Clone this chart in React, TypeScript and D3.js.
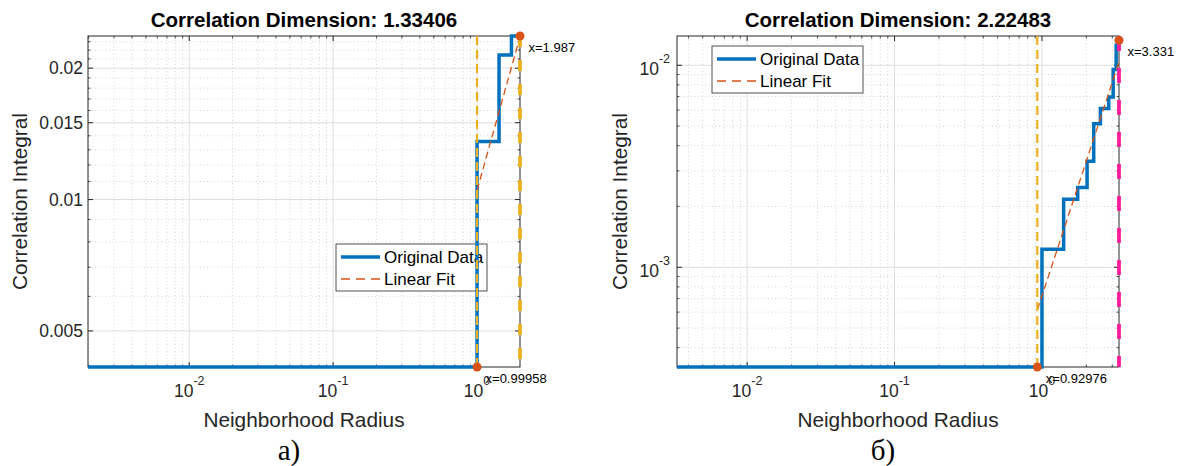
import * as d3 from "d3";
import React from "react";

// shared x ticks (neighborhood radius, log)
const xTickValues = [0.01, 0.1, 1];
const xTickExponents = ["-2", "-1", "0"];

// panel а) — correlation dimension 1.33406
const dimA = "1.33406";
const radiusA = [0.00198, 0.99958, 1.421, 1.733, 1.987];
const integralA = [0.004134, 0.01358, 0.02145, 0.0237, 0.0237];
const fitRadiusA = [0.99958, 1.987];
const fitIntegralA = [0.0105, 0.0236];
const markRadiusA = [0.99958, 1.987];
const markIntegralA = [0.004134, 0.0237];
const markTextA = ["x=0.99958", "x=1.987"];
const yTicksA = [0.005, 0.01, 0.015, 0.02];
const yTickLabelsA = ["0.005", "0.01", "0.015", "0.02"];
const yMinorA = [0.006, 0.007, 0.008, 0.009, 0.011, 0.012, 0.013, 0.014, 0.016, 0.017, 0.018, 0.019, 0.021, 0.022, 0.023];

// panel б) — correlation dimension 2.22483
const dimB = "2.22483";
const radiusB = [0.003345, 1.0, 1.403, 1.747, 2.023, 2.244, 2.492, 2.839, 3.041, 3.187, 3.331];
const integralB = [0.000321, 0.00123, 0.00217, 0.00248, 0.00335, 0.00514, 0.00611, 0.00697, 0.00952, 0.01256, 0.0133];
const fitRadiusB = [0.92976, 3.331];
const fitIntegralB = [0.000615, 0.0104];
const markRadiusB = [0.92976, 3.331];
const markIntegralB = [0.000321, 0.0133];
const markTextB = ["x=0.92976", "x=3.331"];
const yTicksB = [0.001, 0.01];
const yTickExponentsB = ["-3", "-2"];

const FONT = "'Liberation Sans', Arial, Helvetica, sans-serif";
const INK = "#262626";
const BLUE = "#0072BD";
const ORANGE = "#D95319";
const YELLOW = "#EDB120";

const isDecade = (v: number) => Math.abs(Math.log10(v) - Math.round(Math.log10(v))) < 1e-6;

interface PanelProps {
  left: number;
  right: number;
  top: number;
  bottom: number;
  xDomain: [number, number];
  yDomain: [number, number];
  radius: number[];
  integral: number[];
  fitRadius: number[];
  fitIntegral: number[];
  markRadius: number[];
  markIntegral: number[];
  markText: string[];
  dim: string;
  yTicks: number[];
  yTickLabels?: string[];
  yTickExponents?: string[];
  yMinor: number[] | null;
  endColor: string;
  legendX: number;
  legendY: number;
  yLabelX: number;
  caption: string;
}

const Panel: React.FC<PanelProps> = (p) => {
  const x = d3.scaleLog().domain(p.xDomain).range([p.left, p.right]);
  const y = d3.scaleLog().domain(p.yDomain).range([p.bottom, p.top]);

  const xMinor = x.ticks().filter((v) => !isDecade(v));
  const yMinor = p.yMinor ?? y.ticks().filter((v) => !isDecade(v));

  const pts = p.radius.map((r, i) => [r, p.integral[i]] as [number, number]);
  const fitPts = p.fitRadius.map((r, i) => [r, p.fitIntegral[i]] as [number, number]);

  const stairs = d3
    .line<[number, number]>()
    .x((d) => x(d[0]))
    .y((d) => y(d[1]))
    .curve(d3.curveStepAfter);
  const straight = d3
    .line<[number, number]>()
    .x((d) => x(d[0]))
    .y((d) => y(d[1]));

  const cx = (p.left + p.right) / 2;
  const cy = (p.top + p.bottom) / 2;
  const majT = 5;
  const minT = 2.5;

  return (
    <g>
      {/* minor grid */}
      {xMinor.map((v) => (
        <line key={"gx" + v} x1={x(v)} x2={x(v)} y1={p.top} y2={p.bottom} stroke="#cccccc" strokeWidth={0.8} strokeDasharray="1,2.5" />
      ))}
      {yMinor.map((v) => (
        <line key={"gy" + v} x1={p.left} x2={p.right} y1={y(v)} y2={y(v)} stroke="#cccccc" strokeWidth={0.8} strokeDasharray="1,2.5" />
      ))}
      {/* major grid */}
      {xTickValues.map((v) => (
        <line key={"Gx" + v} x1={x(v)} x2={x(v)} y1={p.top} y2={p.bottom} stroke="#dedede" strokeWidth={1} />
      ))}
      {p.yTicks.map((v) => (
        <line key={"Gy" + v} x1={p.left} x2={p.right} y1={y(v)} y2={y(v)} stroke="#dedede" strokeWidth={1} />
      ))}

      {/* ticks on all four sides, pointing in */}
      {xTickValues.map((v) => (
        <g key={"tx" + v} stroke={INK} strokeWidth={1}>
          <line x1={x(v)} x2={x(v)} y1={p.bottom} y2={p.bottom - majT} />
          <line x1={x(v)} x2={x(v)} y1={p.top} y2={p.top + majT} />
        </g>
      ))}
      {xMinor.map((v) => (
        <g key={"mx" + v} stroke={INK} strokeWidth={0.8}>
          <line x1={x(v)} x2={x(v)} y1={p.bottom} y2={p.bottom - minT} />
          <line x1={x(v)} x2={x(v)} y1={p.top} y2={p.top + minT} />
        </g>
      ))}
      {p.yTicks.map((v) => (
        <g key={"ty" + v} stroke={INK} strokeWidth={1}>
          <line x1={p.left} x2={p.left + majT} y1={y(v)} y2={y(v)} />
          <line x1={p.right} x2={p.right - majT} y1={y(v)} y2={y(v)} />
        </g>
      ))}
      {yMinor.map((v) => (
        <g key={"my" + v} stroke={INK} strokeWidth={0.8}>
          <line x1={p.left} x2={p.left + minT} y1={y(v)} y2={y(v)} />
          <line x1={p.right} x2={p.right - minT} y1={y(v)} y2={y(v)} />
        </g>
      ))}

      <rect x={p.left} y={p.top} width={p.right - p.left} height={p.bottom - p.top} fill="none" stroke={INK} strokeWidth={1} />

      {/* legend */}
      <g transform={`translate(${p.legendX},${p.legendY})`} fontFamily={FONT}>
        <rect x={0} y={0} width={151} height={47} fill="#fff" stroke={INK} strokeWidth={0.8} />
        <line x1={5} x2={44} y1={13} y2={13} stroke={BLUE} strokeWidth={3.5} />
        <text x={48} y={19} fontSize={17} fill="#000">Original Data</text>
        <line x1={5} x2={44} y1={35} y2={35} stroke={ORANGE} strokeWidth={1.3} strokeDasharray="9,6" />
        <text x={48} y={41} fontSize={17} fill="#000">Linear Fit</text>
      </g>

      {/* data */}
      <path d={stairs(pts) ?? ""} fill="none" stroke={BLUE} strokeWidth={3.5} />
      <path d={straight(fitPts) ?? ""} fill="none" stroke={ORANGE} strokeWidth={1.3} strokeDasharray="7,4" />

      {/* reference verticals */}
      <line x1={x(p.markRadius[0])} x2={x(p.markRadius[0])} y1={p.top} y2={p.bottom} stroke={YELLOW} strokeWidth={2.2} strokeDasharray="9,5" />
      <line x1={x(p.markRadius[1])} x2={x(p.markRadius[1])} y1={p.top} y2={p.bottom} stroke={p.endColor} strokeWidth={3.8} strokeDasharray={p.endColor === YELLOW ? "11,13" : "15,17"} />

      {p.markRadius.map((r, i) => (
        <g key={"m" + i}>
          <circle cx={x(r)} cy={y(p.markIntegral[i])} r={4.5} fill={ORANGE} />
          <text x={x(r) + 8.5} y={y(p.markIntegral[i]) + 16} fontSize={13} fill="#000" fontFamily={FONT}>
            {p.markText[i]}
          </text>
        </g>
      ))}

      {/* tick labels */}
      {xTickValues.map((v, i) => (
        <text key={"lx" + v} x={x(v)} y={397} textAnchor="middle" fontSize={17.5} fill={INK} fontFamily={FONT}>
          10<tspan dy={-12} fontSize={12.5}>{xTickExponents[i]}</tspan>
        </text>
      ))}
      {p.yTicks.map((v, i) =>
        p.yTickExponents ? (
          <text key={"ly" + v} x={p.left - 7} y={y(v) + 10} textAnchor="end" fontSize={17.5} fill={INK} fontFamily={FONT}>
            10<tspan dy={-12} fontSize={12.5}>{p.yTickExponents[i]}</tspan>
          </text>
        ) : (
          <text key={"ly" + v} x={p.left - 5} y={y(v) + 6} textAnchor="end" fontSize={17.5} fill={INK} fontFamily={FONT}>
            {p.yTickLabels?.[i]}
          </text>
        )
      )}

      {/* labels */}
      <text x={cx} y={26.5} textAnchor="middle" fontSize={20.5} fontWeight="bold" fill="#000" fontFamily={FONT}>
        Correlation Dimension: {p.dim}
      </text>
      <text x={cx} y={426.5} textAnchor="middle" fontSize={20.8} fill={INK} fontFamily={FONT}>
        Neighborhood Radius
      </text>
      <text transform={`translate(${p.yLabelX},${cy}) rotate(-90)`} textAnchor="middle" fontSize={20.8} fill={INK} fontFamily={FONT}>
        Correlation Integral
      </text>
      <text x={cx - 15} y={460} textAnchor="middle" fontSize={29} fill="#000" fontFamily="'Liberation Serif', 'Times New Roman', serif">
        {p.caption}
      </text>
    </g>
  );
};

const App: React.FC = () => {
  return (
    <svg width={1180} height={466} style={{ position: "absolute", left: 0, top: 0, background: "#fff" }}>
      <rect width={1180} height={466} fill="#fff" />
      <Panel
        left={88}
        right={520}
        top={36}
        bottom={367}
        xDomain={[radiusA[0], radiusA[radiusA.length - 1]]}
        yDomain={[integralA[0], integralA[integralA.length - 1]]}
        radius={radiusA}
        integral={integralA}
        fitRadius={fitRadiusA}
        fitIntegral={fitIntegralA}
        markRadius={markRadiusA}
        markIntegral={markIntegralA}
        markText={markTextA}
        dim={dimA}
        yTicks={yTicksA}
        yTickLabels={yTickLabelsA}
        yMinor={yMinorA}
        endColor={YELLOW}
        legendX={336}
        legendY={244}
        yLabelX={27}
        caption="а)"
      />
      <Panel
        left={677}
        right={1119}
        top={36}
        bottom={367}
        xDomain={[radiusB[0], radiusB[radiusB.length - 1]]}
        yDomain={[integralB[0], 0.01396]}
        radius={radiusB}
        integral={integralB}
        fitRadius={fitRadiusB}
        fitIntegral={fitIntegralB}
        markRadius={markRadiusB}
        markIntegral={markIntegralB}
        markText={markTextB}
        dim={dimB}
        yTicks={yTicksB}
        yTickExponents={yTickExponentsB}
        yMinor={null}
        endColor="#ff1c9c"
        legendX={712}
        legendY={46}
        yLabelX={627}
        caption="б)"
      />
    </svg>
  );
};

export default App;
